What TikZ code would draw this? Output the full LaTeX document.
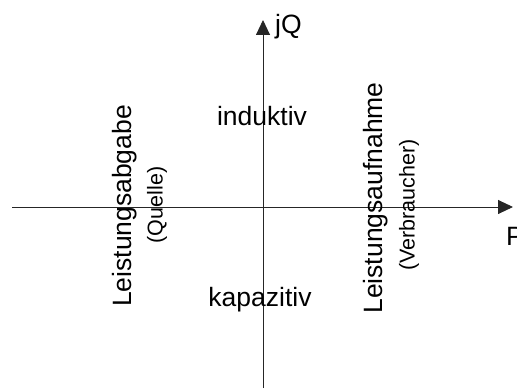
\documentclass[tikz,border=0pt]{standalone}
\usepackage{fontspec}
\setmainfont{Liberation Sans}
\usetikzlibrary{arrows.meta}
\begin{document}
\begin{tikzpicture}[x=1pt,y=-1pt,
  axis/.style={draw=black!85,line width=0.9pt,-{Triangle[length=15pt,width=14pt]}},
  big/.style={font=\fontsize{26.5}{30}\selectfont,inner sep=0pt},
  small/.style={font=\fontsize{21.5}{25}\selectfont,inner sep=0pt}]
\useasboundingbox (0,0) rectangle (517,390);
\coordinate (xs) at (12,207);
\coordinate (xe) at (513,207);
\coordinate (ys) at (263,388);
\coordinate (ye) at (263,20);
\draw[axis] (xs) -- (xe);
\draw[axis] (ys) -- (ye);
\node[big,anchor=west] (jq) at (275,27) {jQ};
\node[big,anchor=west] (p) at (506,236) {P};
\node[big] (ind) at (262,116) {induktiv};
\node[big] (kap) at (260,300) {kapazitiv};
\node[big,rotate=90] (lab) at (125,206) {Leistungsabgabe};
\node[small,rotate=90] (q) at (157,205) {(Quelle)};
\node[big,rotate=90] (lauf) at (376,198) {Leistungsaufnahme};
\node[small,rotate=90] (v) at (409,205) {(Verbraucher)};
\end{tikzpicture}
\end{document}
